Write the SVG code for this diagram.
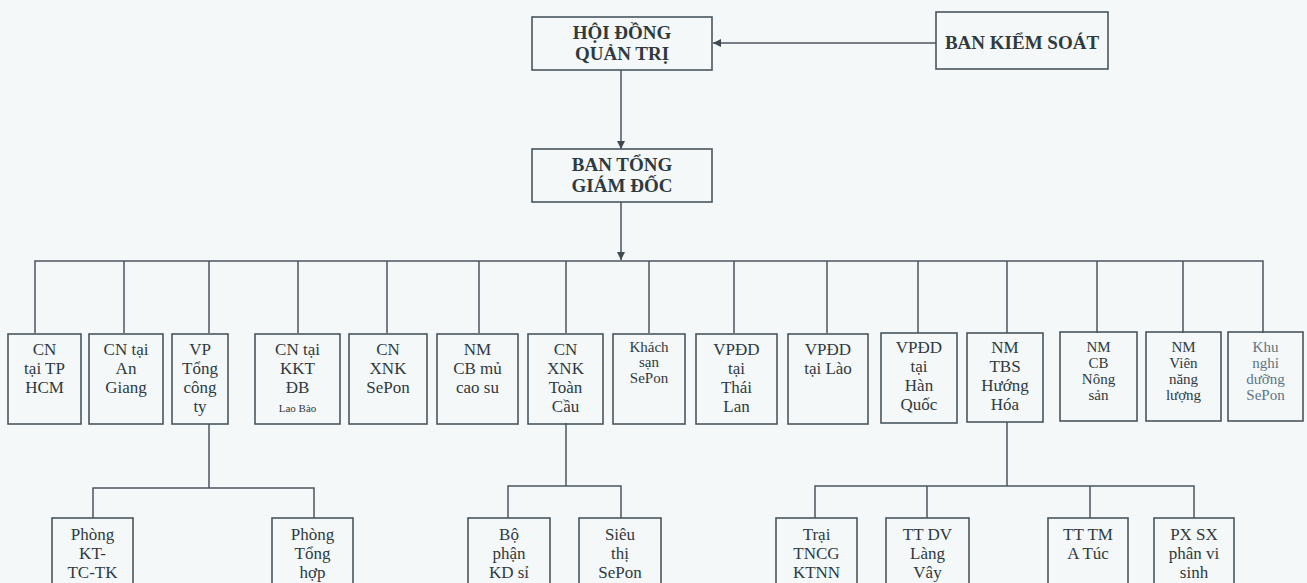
<svg xmlns="http://www.w3.org/2000/svg" width="1307" height="583" viewBox="0 0 1307 583">
<style>
.bg{fill:#f5f8f8}
.box{fill:none;stroke:#4a565e;stroke-width:1.6}
.ln{fill:none;stroke:#4a565e;stroke-width:1.5}
.t{font-family:"Liberation Serif","Times New Roman",serif;fill:#2f3a40;text-anchor:middle;font-size:17px}
.b{font-weight:bold;font-size:19px}
.s{font-size:15px}
.xs{font-size:11px}
.lt{fill:#5d7584}
</style>
<defs>
<marker id="ah" viewBox="0 0 10 10" refX="10" refY="5" markerWidth="8" markerHeight="8" markerUnits="userSpaceOnUse" orient="auto">
<path d="M0,0 L10,5 L0,10 z" fill="#3f4a52"/>
</marker>
</defs>
<rect class="bg" x="0" y="0" width="1307" height="583"/>
<g id="connectors">
<line class="ln" x1="936" y1="43" x2="713" y2="43" marker-end="url(#ah)"/>
<line class="ln" x1="621" y1="70" x2="621" y2="149" marker-end="url(#ah)"/>
<line class="ln" x1="621" y1="202" x2="621" y2="260" marker-end="url(#ah)"/>
<polyline class="ln" points="35,333 35,261 1263,261 1263,333"/>
<line class="ln" x1="124" y1="261" x2="124" y2="333"/>
<line class="ln" x1="209" y1="261" x2="209" y2="333"/>
<line class="ln" x1="298" y1="261" x2="298" y2="333"/>
<line class="ln" x1="387" y1="261" x2="387" y2="333"/>
<line class="ln" x1="479" y1="261" x2="479" y2="333"/>
<line class="ln" x1="566" y1="261" x2="566" y2="333"/>
<line class="ln" x1="649" y1="261" x2="649" y2="333"/>
<line class="ln" x1="734" y1="261" x2="734" y2="333"/>
<line class="ln" x1="827" y1="261" x2="827" y2="333"/>
<line class="ln" x1="918" y1="261" x2="918" y2="333"/>
<line class="ln" x1="1007" y1="261" x2="1007" y2="333"/>
<line class="ln" x1="1097" y1="261" x2="1097" y2="333"/>
<line class="ln" x1="1183" y1="261" x2="1183" y2="333"/>
<line class="ln" x1="209" y1="424" x2="209" y2="488"/>
<polyline class="ln" points="93,518 93,488 314,488 314,518"/>
<line class="ln" x1="566" y1="423" x2="566" y2="486"/>
<polyline class="ln" points="508,518 508,486 621,486 621,518"/>
<line class="ln" x1="1007" y1="422" x2="1007" y2="486"/>
<polyline class="ln" points="815,518 815,486 1194,486 1194,518"/>
<line class="ln" x1="927" y1="486" x2="927" y2="518"/>
<line class="ln" x1="1090" y1="486" x2="1090" y2="518"/>
</g>
<g id="hdqt"><rect class="box" x="532" y="17" width="180" height="53"/><text class="t b" x="622" y="39">HỘI ĐỒNG</text><text class="t b" x="622" y="60">QUẢN TRỊ</text></g>
<g id="bks"><rect class="box" x="936" y="12" width="172" height="57"/><text class="t b" x="1022" y="49">BAN KIỂM SOÁT</text></g>
<g id="btgd"><rect class="box" x="532" y="149" width="180" height="53"/><text class="t b" x="622" y="171">BAN TỔNG</text><text class="t b" x="622" y="192">GIÁM ĐỐC</text></g>

<g id="n1"><rect class="box" x="8" y="334" width="73" height="90"/><text class="t" x="44.5" y="355">CN</text><text class="t" x="44.5" y="374">tại TP</text><text class="t" x="44.5" y="393">HCM</text></g>
<g id="n2"><rect class="box" x="89" y="334" width="74" height="90"/><text class="t" x="126" y="355">CN tại</text><text class="t" x="126" y="374">An</text><text class="t" x="126" y="393">Giang</text></g>
<g id="n3"><rect class="box" x="172" y="334" width="56" height="90"/><text class="t" x="200" y="355">VP</text><text class="t" x="200" y="374">Tổng</text><text class="t" x="200" y="393">công</text><text class="t" x="200" y="412">ty</text></g>
<g id="n4"><rect class="box" x="255" y="334" width="85" height="90"/><text class="t" x="297.5" y="355">CN tại</text><text class="t" x="297.5" y="374">KKT</text><text class="t" x="297.5" y="393">ĐB</text><text class="t xs" x="297.5" y="412">Lao Bào</text></g>
<g id="n5"><rect class="box" x="349" y="334" width="78" height="90"/><text class="t" x="388" y="355">CN</text><text class="t" x="388" y="374">XNK</text><text class="t" x="388" y="393">SePon</text></g>
<g id="n6"><rect class="box" x="437" y="334" width="81" height="90"/><text class="t" x="477.5" y="355">NM</text><text class="t" x="477.5" y="374">CB mủ</text><text class="t" x="477.5" y="393">cao su</text></g>
<g id="n7"><rect class="box" x="528" y="334" width="75" height="90"/><text class="t" x="565.5" y="355">CN</text><text class="t" x="565.5" y="374">XNK</text><text class="t" x="565.5" y="393">Toàn</text><text class="t" x="565.5" y="412">Cầu</text></g>
<g id="n8"><rect class="box" x="613" y="334" width="72" height="90"/><text class="t s" x="649" y="352">Khách</text><text class="t s" x="649" y="367">sạn</text><text class="t s" x="649" y="383">SePon</text></g>
<g id="n9"><rect class="box" x="696" y="334" width="81" height="90"/><text class="t" x="736.5" y="355">VPĐD</text><text class="t" x="736.5" y="374">tại</text><text class="t" x="736.5" y="393">Thái</text><text class="t" x="736.5" y="412">Lan</text></g>
<g id="n10"><rect class="box" x="788" y="334" width="80" height="90"/><text class="t" x="828" y="355">VPĐD</text><text class="t" x="828" y="374">tại Lào</text></g>
<g id="n11"><rect class="box" x="881" y="333" width="76" height="90"/><text class="t" x="919" y="353">VPĐD</text><text class="t" x="919" y="372">tại</text><text class="t" x="919" y="391">Hàn</text><text class="t" x="919" y="410">Quốc</text></g>
<g id="n12"><rect class="box" x="967" y="333" width="76" height="89"/><text class="t" x="1005" y="353">NM</text><text class="t" x="1005" y="372">TBS</text><text class="t" x="1005" y="391">Hướng</text><text class="t" x="1005" y="410">Hóa</text></g>
<g id="n13"><rect class="box" x="1060" y="332" width="77" height="89"/><text class="t s" x="1098.5" y="352">NM</text><text class="t s" x="1098.5" y="368">CB</text><text class="t s" x="1098.5" y="384">Nông</text><text class="t s" x="1098.5" y="400">sản</text></g>
<g id="n14"><rect class="box" x="1146" y="332" width="75" height="89"/><text class="t s" x="1183.5" y="352">NM</text><text class="t s" x="1183.5" y="368">Viên</text><text class="t s" x="1183.5" y="384">năng</text><text class="t s" x="1183.5" y="400">lượng</text></g>
<g id="n15"><rect class="box" x="1228" y="332" width="75" height="89"/><text class="t s lt" x="1265.5" y="352">Khu</text><text class="t s lt" x="1265.5" y="368">nghỉ</text><text class="t s lt" x="1265.5" y="384">dưỡng</text><text class="t s lt" x="1265.5" y="400">SePon</text></g>

<g id="c1"><rect class="box" x="52" y="518" width="81" height="80"/><text class="t" x="92.5" y="540">Phòng</text><text class="t" x="92.5" y="559">KT-</text><text class="t" x="92.5" y="578">TC-TK</text></g>
<g id="c2"><rect class="box" x="272" y="518" width="81" height="80"/><text class="t" x="312.5" y="540">Phòng</text><text class="t" x="312.5" y="559">Tổng</text><text class="t" x="312.5" y="578">hợp</text></g>
<g id="c3"><rect class="box" x="468" y="518" width="82" height="80"/><text class="t" x="509" y="540">Bộ</text><text class="t" x="509" y="559">phận</text><text class="t" x="509" y="578">KD sỉ</text></g>
<g id="c4"><rect class="box" x="579" y="518" width="82" height="80"/><text class="t" x="620" y="540">Siêu</text><text class="t" x="620" y="559">thị</text><text class="t" x="620" y="578">SePon</text></g>
<g id="c5"><rect class="box" x="776" y="518" width="81" height="80"/><text class="t" x="816.5" y="540">Trại</text><text class="t" x="816.5" y="559">TNCG</text><text class="t" x="816.5" y="578">KTNN</text></g>
<g id="c6"><rect class="box" x="886" y="518" width="83" height="80"/><text class="t" x="927.5" y="540">TT DV</text><text class="t" x="927.5" y="559">Làng</text><text class="t" x="927.5" y="578">Vây</text></g>
<g id="c7"><rect class="box" x="1048" y="518" width="80" height="80"/><text class="t" x="1088" y="540">TT TM</text><text class="t" x="1088" y="559">A Túc</text></g>
<g id="c8"><rect class="box" x="1154" y="518" width="80" height="80"/><text class="t" x="1194" y="540">PX SX</text><text class="t" x="1194" y="559">phân vi</text><text class="t" x="1194" y="578">sinh</text></g>
</svg>
